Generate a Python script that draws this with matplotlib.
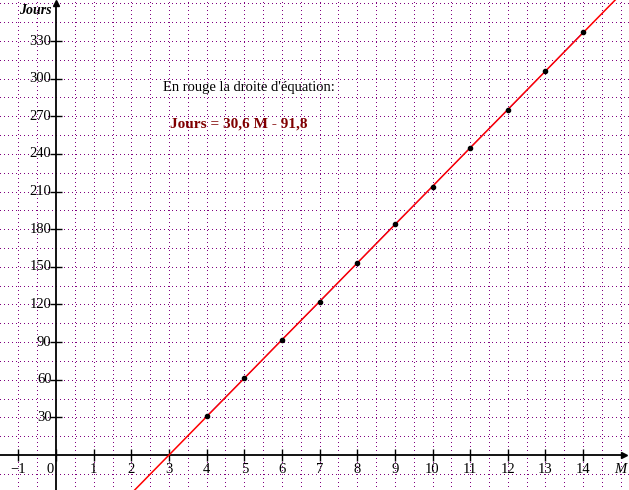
import numpy as np
import matplotlib
matplotlib.use("Agg")
import matplotlib.pyplot as plt

# donnees
mois = [4, 5, 6, 7, 8, 9, 10, 11, 12, 13, 14]
jours = [31, 61, 92, 122, 153, 184, 214, 245, 275, 306, 337]
a, b = 30.6, -91.8

xticks = list(range(-1, 15))
yticks = list(range(30, 331, 30))

plt.rcParams['font.family'] = ['Liberation Serif', 'DejaVu Serif']

fig = plt.figure(figsize=(6.29, 4.9), dpi=100)
ax = fig.add_axes([0, 0, 1, 1])
xmin, xmax = -1.49, 15.22
ymin, ymax = -27.9, 362.7
ax.set_xlim(xmin, xmax)
ax.set_ylim(ymin, ymax)
for s in ax.spines.values():
    s.set_visible(False)
ax.set_xticks([])
ax.set_yticks([])

# quadrillage pointille
violet = '#800080'
for gx in np.arange(-1.0, 15.01, 0.5):
    if gx != 0:
        ax.axvline(gx, color=violet, lw=0.72, ls=(0, (1, 3)), antialiased=False, zorder=1)
for gy in np.arange(-15, 361, 15):
    if gy != 0:
        ax.axhline(gy, color=violet, lw=0.72, ls=(0, (1, 3)), antialiased=False, zorder=1)

# axes
ax.plot([xmin, 15.1], [0, 0], color='black', lw=1.3, zorder=3)
ax.plot([0, 0], [ymin, 360], color='black', lw=1.3, zorder=3)
ax.plot(15.1, 0, marker='>', color='black', ms=4, zorder=3)
ax.plot(0, 360, marker='^', color='black', ms=4, zorder=3)
ax.plot(xticks, [0] * len(xticks), ls='', marker='|', color='black', ms=8, mew=1, zorder=3)
ax.plot([0] * len(yticks), yticks, ls='', marker='_', color='black', ms=8, mew=1, zorder=3)

for t in xticks:
    if t == 0:
        ax.text(-0.17, -6, '0', ha='center', va='top', fontsize=10.5)
    else:
        ax.text(t, -6, '\u2212' + str(-t) if t < 0 else str(t), ha='center', va='top', fontsize=10.5)
for t in yticks:
    ax.text(-0.12, t, str(t), ha='right', va='center', fontsize=10.5)

ax.text(15.0, -6, 'M', ha='center', va='top', fontsize=10.5, style='italic')
ax.text(-0.12, 354, 'Jours', ha='right', va='center', fontsize=10, style='italic', weight='bold')

# droite et points
xs = np.array([xmin, xmax])
ax.plot(mois, jours, color='blue', lw=0.5, zorder=4)
ax.plot(xs, a * xs + b, color='red', lw=1.1, zorder=5)
ax.plot(mois, jours, ls='', marker='o', color='black', ms=3, zorder=6)

ax.text(2.84, 293, "En rouge la droite d'équation:", ha='left', va='center', fontsize=10.5)
ax.text(3.03, 263.5, "Jours = 30,6 M - 91,8", ha='left', va='center', fontsize=11,
        weight='bold', color='#800000')

fig.savefig('out.png', dpi=100)
